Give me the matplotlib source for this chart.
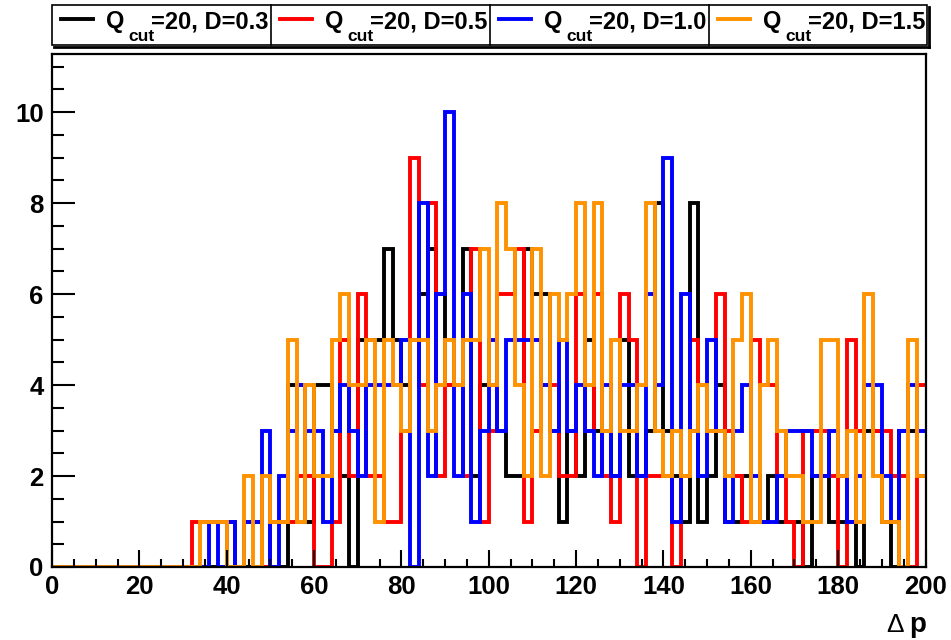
import matplotlib
matplotlib.use("Agg")
import matplotlib.pyplot as plt
from matplotlib.lines import Line2D
from matplotlib.patches import Rectangle
import numpy as np

plt.rcParams['font.family'] = ['Liberation Sans', 'DejaVu Sans']

# histogram contents, 100 bins of width 2 from 0 to 200
bin_lo, bin_hi, bin_w = 0, 200, 2

d03 = [0, 0, 0, 0, 0, 0, 0, 0, 0, 0,
       0, 0, 0, 0, 0, 0, 0, 0, 0, 0,
       0, 0, 0, 0, 0, 0, 0, 4, 4, 1,
       4, 4, 3, 2, 0, 5, 5, 5, 7, 5,
       4, 5, 6, 7, 6, 4, 4, 7, 2, 4,
       4, 3, 2, 2, 7, 6, 6, 3, 1, 3,
       2, 5, 3, 3, 2, 5, 2, 2, 3, 8,
       3, 2, 1, 8, 1, 2, 4, 1, 1, 2,
       1, 1, 2, 1, 1, 1, 0, 2, 2, 1,
       1, 1, 0, 3, 3, 1, 0, 3, 3, 2]

d05 = [0, 0, 0, 0, 0, 0, 0, 0, 0, 0,
       0, 0, 0, 0, 0, 0, 1, 1, 1, 1,
       1, 0, 1, 1, 0, 1, 1, 1, 2, 2,
       0, 0, 1, 5, 2, 6, 2, 2, 1, 1,
       3, 9, 4, 8, 2, 4, 4, 2, 7, 1,
       3, 6, 6, 7, 1, 3, 4, 4, 2, 2,
       6, 3, 6, 2, 1, 6, 5, 0, 2, 2,
       2, 0, 2, 5, 4, 3, 6, 3, 2, 1,
       5, 4, 4, 2, 1, 0, 3, 3, 3, 2,
       0, 5, 3, 4, 3, 3, 2, 2, 0, 4]

d10 = [0, 0, 0, 0, 0, 0, 0, 0, 0, 0,
       0, 0, 0, 0, 0, 0, 0, 0, 1, 0,
       1, 0, 1, 1, 3, 0, 2, 3, 4, 3,
       3, 1, 3, 4, 3, 2, 4, 4, 4, 4,
       5, 0, 8, 2, 6, 10, 2, 6, 1, 3,
       5, 3, 5, 5, 5, 5, 4, 3, 5, 3,
       4, 3, 2, 4, 2, 4, 4, 2, 6, 4,
       9, 1, 6, 3, 2, 5, 3, 1, 3, 4,
       2, 1, 1, 2, 3, 3, 3, 2, 2, 3,
       2, 1, 2, 4, 4, 2, 1, 3, 4, 3]

d15 = [0, 0, 0, 0, 0, 0, 0, 0, 0, 0,
       0, 0, 0, 0, 0, 0, 0, 1, 1, 1,
       0, 0, 2, 0, 2, 1, 1, 5, 1, 4,
       2, 2, 5, 6, 4, 4, 5, 1, 5, 4,
       3, 5, 5, 3, 4, 5, 4, 5, 5, 7,
       4, 8, 7, 4, 2, 7, 2, 6, 5, 6,
       8, 4, 8, 3, 5, 3, 3, 4, 8, 3,
       2, 3, 2, 3, 4, 3, 3, 2, 5, 6,
       1, 4, 5, 3, 2, 2, 1, 1, 5, 5,
       2, 3, 1, 6, 2, 1, 1, 0, 5, 2]

series = [d03, d05, d10, d15]
labels = ['0.3', '0.5', '1.0', '1.5']
colors = ['black', '#ff0000', '#0000ff', '#ff9200']

W, H = 951, 640
fig = plt.figure(figsize=(W / 100, H / 100), dpi=100)
fig.patch.set_facecolor('white')

# axes frame in pixels: x 52..925, y 54..567
ax = fig.add_axes([52 / W, 1 - 567 / H, (925.5 - 52) / W, (567 - 54) / H])

edges = np.arange(bin_lo, bin_hi + bin_w, bin_w)
for vals, c in zip(series, colors):
    ax.stairs(vals, edges, baseline=None, color=c, lw=2.8)

ax.set_xlim(0, 200)
ax.set_ylim(0, 11.28)
ax.set_xticks(np.arange(0, 201, 20))
ax.set_xticks(np.arange(0, 201, 5), minor=True)
ax.set_yticks(np.arange(0, 11, 2))
ax.set_yticks(np.arange(0, 11.3, 0.5), minor=True)

for s in ax.spines.values():
    s.set_linewidth(1.6)

ax.tick_params(axis='y', which='major', direction='in', length=16.5, width=1.5,
               labelsize=18.5, pad=6)
ax.tick_params(axis='y', which='minor', direction='in', length=8.5, width=1.5)
ax.tick_params(axis='x', which='major', direction='in', length=12, width=1.5,
               labelsize=18.5, pad=6)
ax.tick_params(axis='x', which='minor', direction='in', length=6, width=1.5)
for t in ax.get_xticklabels() + ax.get_yticklabels():
    t.set_fontweight('bold')

# x axis title
def px(x, y):
    return x / W, 1 - y / H

fig.text(*px(904, 632), '\u0394', fontsize=19, ha='right', va='baseline')
fig.text(*px(926, 632), 'p', fontsize=20, fontweight='bold', ha='right', va='baseline')

# legend box (ROOT style, with shadow)
lx0, lx1, ly0, ly1 = 52, 927, 5, 45
box = Rectangle(px(lx0, ly1), (lx1 - lx0) / W, (ly1 - ly0) / H,
                transform=fig.transFigure, fill=False, lw=1.2, ec='black')
fig.patches.append(box)
fig.lines.append(Line2D([(lx0 + 2) / W, (lx1 + 2) / W], [1 - (ly1 + 1.5) / H] * 2,
                        transform=fig.transFigure, color='black', lw=2))
fig.lines.append(Line2D([(lx1 + 1.5) / W] * 2, [1 - (ly0 + 2) / H, 1 - (ly1 + 2) / H],
                        transform=fig.transFigure, color='black', lw=2))

cell = 219
for i, (lab, c) in enumerate(zip(labels, colors)):
    o = i * cell
    if i > 0:
        fig.lines.append(Line2D([(lx0 + o) / W] * 2, [1 - ly0 / H, 1 - ly1 / H],
                                transform=fig.transFigure, color='black', lw=1.2))
    fig.lines.append(Line2D([(61 + o) / W, (93 + o) / W], [1 - 19 / H] * 2,
                            transform=fig.transFigure, color=c, lw=2.8))
    fig.text(*px(106 + o, 28), 'Q', fontsize=17, fontweight='bold', va='baseline')
    fig.text(*px(128 + o, 41), 'cut', fontsize=12.5, fontweight='bold', va='baseline')
    fig.text(*px(151 + o, 28), '=20, D=' + lab, fontsize=17, fontweight='bold',
             va='baseline')

fig.savefig('out.png', dpi=100, facecolor='white')
